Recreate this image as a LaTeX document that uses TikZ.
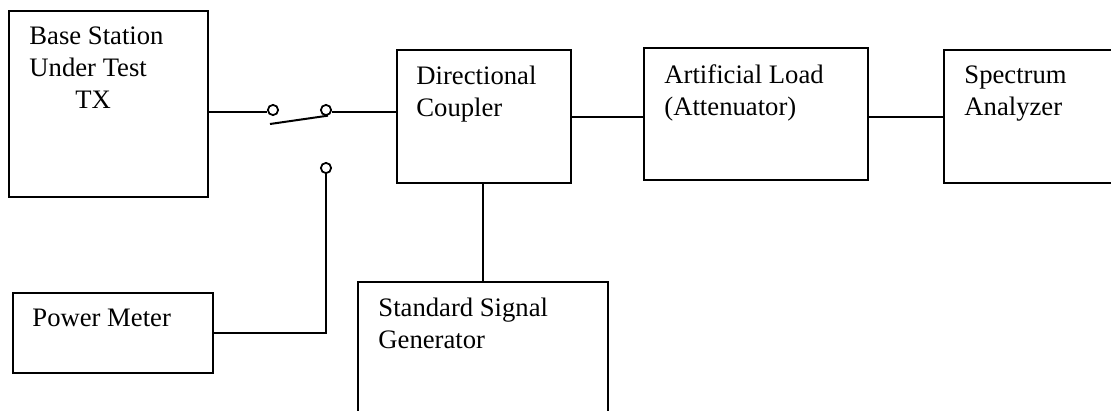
\documentclass[tikz,border=0pt]{standalone}
\usepackage{fontspec}
\setmainfont{Liberation Serif}
\usetikzlibrary{positioning}

\tikzset{
  blk/.style={draw, line width=0.9pt, anchor=north west, inner sep=0pt},
  lbl/.style={inner sep=0pt, align=left, font=\fontsize{12}{14.4}\selectfont},
  term/.style={circle, draw, line width=0.8pt, inner sep=0pt, minimum size=4.6pt},
  wire/.style={line width=0.9pt}
}

\begin{document}
\begin{tikzpicture}[x=0.45pt, y=-0.45pt]
  \useasboundingbox (0,0) rectangle (1111,410);
  \clip (0,0) rectangle (1111,410);

  % boxes
  \node[blk, minimum width=89.55pt, minimum height=83.7pt] (bs) at (8,10) {};
  \node[blk, minimum width=90pt, minimum height=36pt] (pm) at (12,292) {};
  \node[blk, minimum width=78.3pt, minimum height=59.85pt] (dc) at (396,49) {};
  \node[blk, minimum width=112.5pt, minimum height=72pt] (ssg) at (357,281) {};
  \node[blk, minimum width=100.8pt, minimum height=59.4pt] (al) at (643,47) {};
  \node[blk, minimum width=90pt, minimum height=59.85pt] (sa) at (943,49) {};

  % labels
  \node[lbl, below right=7.6pt and 9.45pt of bs.north west] (bslbl) {Base Station\\Under Test\\\hspace*{20.7pt}TX};
  \node[lbl, below right=7.6pt and 9pt of pm.north west] (pmlbl) {Power Meter};
  \node[lbl, below right=7.6pt and 9pt of dc.north west] (dclbl) {Directional\\Coupler};
  \node[lbl, below right=7.6pt and 9.45pt of ssg.north west] (ssglbl) {Standard Signal\\Generator};
  \node[lbl, below right=7.6pt and 9.45pt of al.north west] (allbl) {Artificial Load\\(Attenuator)};
  \node[lbl, below right=7.6pt and 9.45pt of sa.north west] (salbl) {Spectrum\\Analyzer};

  % switch
  \node[term] (t1) at (273,110) {};
  \node[term] (t2) at (326,110) {};
  \node[term] (t3) at (326,168) {};
  \coordinate (blade) at (270,124);

  % wiring
  \draw[wire] (bs.east |- t1.200) -- (t1.200);
  \draw[wire] (t2.340) -- (t2.340 -| dc.west);
  \draw[wire] (blade) -- (t2.290);
  \draw[wire] (t3.south) |- (pm.east);
  \draw[wire] (ssg.north) -- (ssg.north |- dc.south);
  \draw[wire] (dc.east) -- (dc.east -| al.west);
  \draw[wire] (sa.west) -- (sa.west -| al.east);

\end{tikzpicture}
\end{document}
